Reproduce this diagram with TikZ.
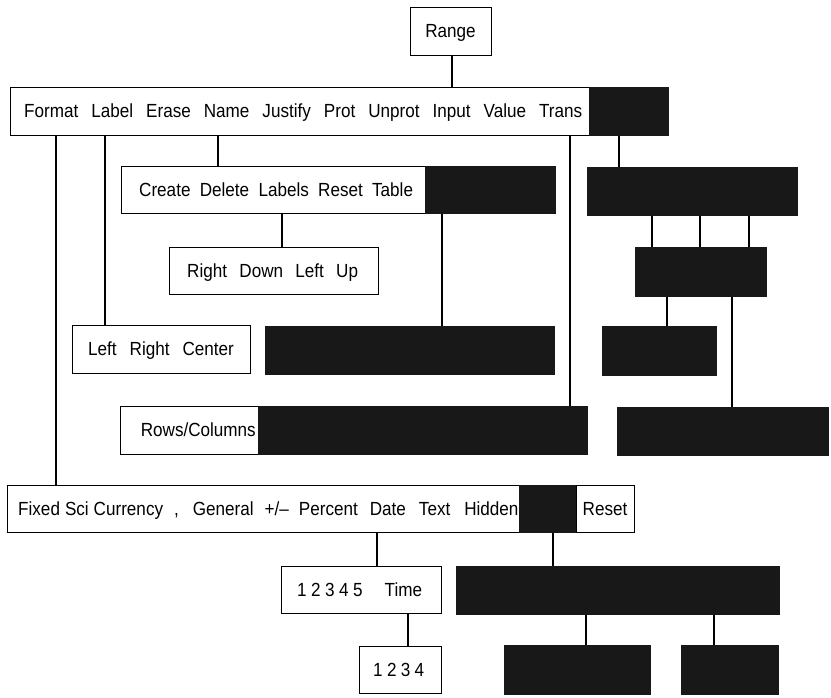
\documentclass[tikz,border=0pt]{standalone}
\usepackage{fontspec}
\setmainfont{Liberation Sans}[FakeStretch=0.9]
\definecolor{dk}{RGB}{24,24,24}
\newcommand\wsp[1]{\hspace{#1pt}}
\begin{document}
\begin{tikzpicture}[x=1pt,y=-1pt,
  wbox/.style={draw=black, line width=1.1pt, fill=white, inner sep=0pt, anchor=north west},
  dbox/.style={draw=dk, line width=1.1pt, fill=dk, inner sep=0pt, anchor=north west},
  txt/.style={font=\fontsize{19}{20}\selectfont, inner sep=0pt, anchor=base west},
  conn/.style={draw=black, line width=1.1pt}]
\useasboundingbox (0,0) rectangle (831,698);
% boxes
\node[wbox, minimum width=81pt, minimum height=48pt] (range) at (410,7) {};
\node[txt, anchor=base] (ranget) at (450.5,37.8) {Range};
\node[wbox, minimum width=579pt, minimum height=48pt] (top) at (10,87) {};
\node[txt] (topt) at (24,117.8) {Format\wsp{13}Label\wsp{13}Erase\wsp{13}Name\wsp{13}Justify\wsp{13}Prot\wsp{13}Unprot\wsp{13}Input\wsp{13}Value\wsp{13}Trans};
\node[dbox, minimum width=79pt, minimum height=48pt] (topd) at (589,87) {};
\node[wbox, minimum width=304pt, minimum height=47pt] (create) at (121,166) {};
\node[txt] (createt) at (139,196.3) {Create\wsp{9.3}Delete\wsp{9.3}Labels\wsp{9.3}Reset\wsp{9.3}Table};
\node[dbox, minimum width=130pt, minimum height=47pt] (created) at (425,166) {};
\node[dbox, minimum width=210pt, minimum height=48pt] (da) at (587,167) {};
\node[wbox, minimum width=209pt, minimum height=47pt] (rdlu) at (169,247) {};
\node[txt] (rdlut) at (187,277.3) {Right\wsp{12.3}Down\wsp{12.3}Left\wsp{12.3}Up};
\node[dbox, minimum width=131pt, minimum height=49pt] (db) at (635,247) {};
\node[wbox, minimum width=178pt, minimum height=48pt] (lrc) at (72,325) {};
\node[txt] (lrct) at (88,355.8) {Left\wsp{13}Right\wsp{13}Center};
\node[dbox, minimum width=289pt, minimum height=48pt] (dc) at (265,326) {};
\node[dbox, minimum width=114pt, minimum height=49pt] (dd) at (602,326) {};
\node[wbox, minimum width=138pt, minimum height=48pt] (rows) at (120,406) {};
\node[txt, anchor=base east] (rowst) at (256,436.8) {Rows/Columns};
\node[dbox, minimum width=329pt, minimum height=48pt] (rowsd) at (258,406) {};
\node[dbox, minimum width=211pt, minimum height=48pt] (de) at (617,407) {};
\node[wbox, minimum width=512pt, minimum height=47pt] (fixed) at (7,485) {};
\node[txt] (fixedt) at (18,515.3) {Fixed\wsp{5}Sci\wsp{5}Currency\wsp{11},\wsp{14}General\wsp{11}+/–\wsp{10}Percent\wsp{12}Date\wsp{13}Text\wsp{14}Hidden};
\node[dbox, minimum width=57pt, minimum height=47pt] (fixedd) at (519,485) {};
\node[wbox, minimum width=58pt, minimum height=47pt] (reset) at (576,485) {};
\node[txt, anchor=base] (resett) at (605,515.3) {Reset};
\node[wbox, minimum width=160pt, minimum height=47pt] (tm) at (281,566) {};
\node[txt] (tmt) at (297,596.3) {1\wsp{4.5}2\wsp{4.5}3\wsp{4.5}4\wsp{4.5}5\wsp{22}Time};
\node[dbox, minimum width=323pt, minimum height=48pt] (df) at (456,566) {};
\node[wbox, minimum width=82pt, minimum height=47pt] (n4) at (359,646) {};
\node[txt] (n4t) at (373,676.3) {1\wsp{4.3}2\wsp{4.3}3\wsp{4.3}4};
\node[dbox, minimum width=146pt, minimum height=49pt] (dg) at (504,645) {};
\node[dbox, minimum width=97pt, minimum height=49pt] (dh) at (681,645) {};
% connector x positions
\coordinate (xR) at (452,0);
\coordinate (xF) at (56,0);
\coordinate (xL) at (105,0);
\coordinate (xN) at (218,0);
\coordinate (xT) at (570,0);
\coordinate (xTd) at (619,0);
\coordinate (xCd) at (442,0);
\coordinate (xC) at (282,0);
\coordinate (xA1) at (652,0);
\coordinate (xA2) at (700,0);
\coordinate (xA3) at (749,0);
\coordinate (xB1) at (667,0);
\coordinate (xB2) at (732,0);
\coordinate (xX) at (377,0);
\coordinate (xXd) at (553,0);
\coordinate (xM) at (408,0);
\coordinate (xG) at (586,0);
\coordinate (xH) at (714,0);
% connectors
\draw[conn] (range.south -| xR) -- (top.north -| xR);
\draw[conn] (top.south -| xF) -- (fixed.north -| xF);
\draw[conn] (top.south -| xL) -- (lrc.north -| xL);
\draw[conn] (top.south -| xN) -- (create.north -| xN);
\draw[conn] (top.south -| xT) -- (rowsd.north -| xT);
\draw[conn] (topd.south -| xTd) -- (da.north -| xTd);
\draw[conn] (created.south -| xCd) -- (dc.north -| xCd);
\draw[conn] (create.south -| xC) -- (rdlu.north -| xC);
\draw[conn] (da.south -| xA1) -- (db.north -| xA1);
\draw[conn] (da.south -| xA2) -- (db.north -| xA2);
\draw[conn] (da.south -| xA3) -- (db.north -| xA3);
\draw[conn] (db.south -| xB1) -- (dd.north -| xB1);
\draw[conn] (db.south -| xB2) -- (de.north -| xB2);
\draw[conn] (fixed.south -| xX) -- (tm.north -| xX);
\draw[conn] (fixedd.south -| xXd) -- (df.north -| xXd);
\draw[conn] (tm.south -| xM) -- (n4.north -| xM);
\draw[conn] (df.south -| xG) -- (dg.north -| xG);
\draw[conn] (df.south -| xH) -- (dh.north -| xH);
\end{tikzpicture}
\end{document}
